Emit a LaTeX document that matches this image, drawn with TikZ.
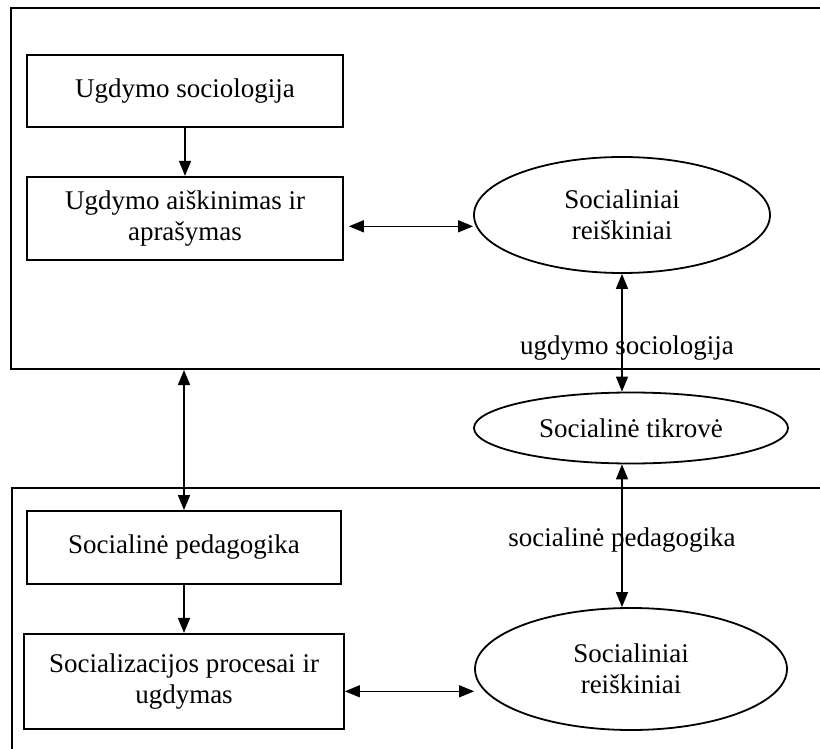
\documentclass[tikz,border=0pt]{standalone}
\usepackage{fontspec}
\setmainfont{Liberation Serif}
\usetikzlibrary{shapes.geometric,positioning,arrows.meta}

\begin{document}
\begin{tikzpicture}[x=1pt, y=1pt, node distance=48pt,
    font=\fontsize{27}{30.5}\selectfont,
    frame/.style={draw, rectangle, line width=2pt, inner sep=0pt, anchor=north west},
    box/.style={draw, rectangle, line width=1.8pt, align=center, inner sep=0pt},
    oval/.style={draw, ellipse, line width=1.8pt, align=center, inner sep=0pt},
    link/.style={line width=1.5pt, {Triangle[length=15pt,width=12pt]}-{Triangle[length=15pt,width=12pt]}},
    onelink/.style={line width=1.5pt, -{Triangle[length=15pt,width=12pt]}}]
    \useasboundingbox (0,0) rectangle (820,-749);

    % upper and lower frames (open to the right)
    \node (upper) [frame, minimum width=830pt, minimum height=361pt] at (10,-7) {};
    \node (lower) [frame, minimum width=830pt, minimum height=280pt] at (11,-487) {};

    % upper part
    \node (sociol) [box, minimum width=316pt, minimum height=72pt] at (185,-91) {Ugdymo sociologija};
    \node (aiskin) [box, minimum width=316pt, minimum height=83pt, below=of sociol] {Ugdymo aiškinimas ir\\aprašymas};
    \node (reisk1) [oval, minimum width=296pt, minimum height=116pt] at (622,-215) {Socialiniai\\reiškiniai};
    \node (ulabel) [anchor=base] at (627,-354) {ugdymo sociologija};

    % middle
    \node (tikrove) [oval, minimum width=314pt, minimum height=71pt] at (631,-428) {Socialinė tikrovė};

    % lower part
    \node (pedag) [box, minimum width=314pt, minimum height=73pt] at (184,-547.5) {Socialinė pedagogika};
    \node (socializ) [box, minimum width=320pt, minimum height=95pt, below=of pedag] {Socializacijos procesai ir\\ugdymas};
    \node (reisk2) [oval, minimum width=312pt, minimum height=122pt] at (631,-669) {Socialiniai\\reiškiniai};
    \node (plabel) [anchor=base] at (622,-546) {socialinė pedagogika};

    \draw[onelink] (sociol) -- (aiskin);
    \draw[link, shorten <=5pt] ([yshift=-8pt]aiskin.east) -- ([yshift=-8pt]aiskin.east -| reisk1.west);
    \draw[link] (reisk1.south) -- (reisk1.south |- tikrove.north);
    \draw[link] (tikrove.south -| reisk1.south) -- (reisk2.north -| reisk1.south);
    \draw[link] (upper.south -| pedag.north) -- (pedag.north);
    \draw[onelink] (pedag) -- (socializ);
    \draw[link] ([yshift=-10pt]socializ.east) -- ([yshift=-10pt]socializ.east -| reisk2.west);
\end{tikzpicture}
\end{document}
